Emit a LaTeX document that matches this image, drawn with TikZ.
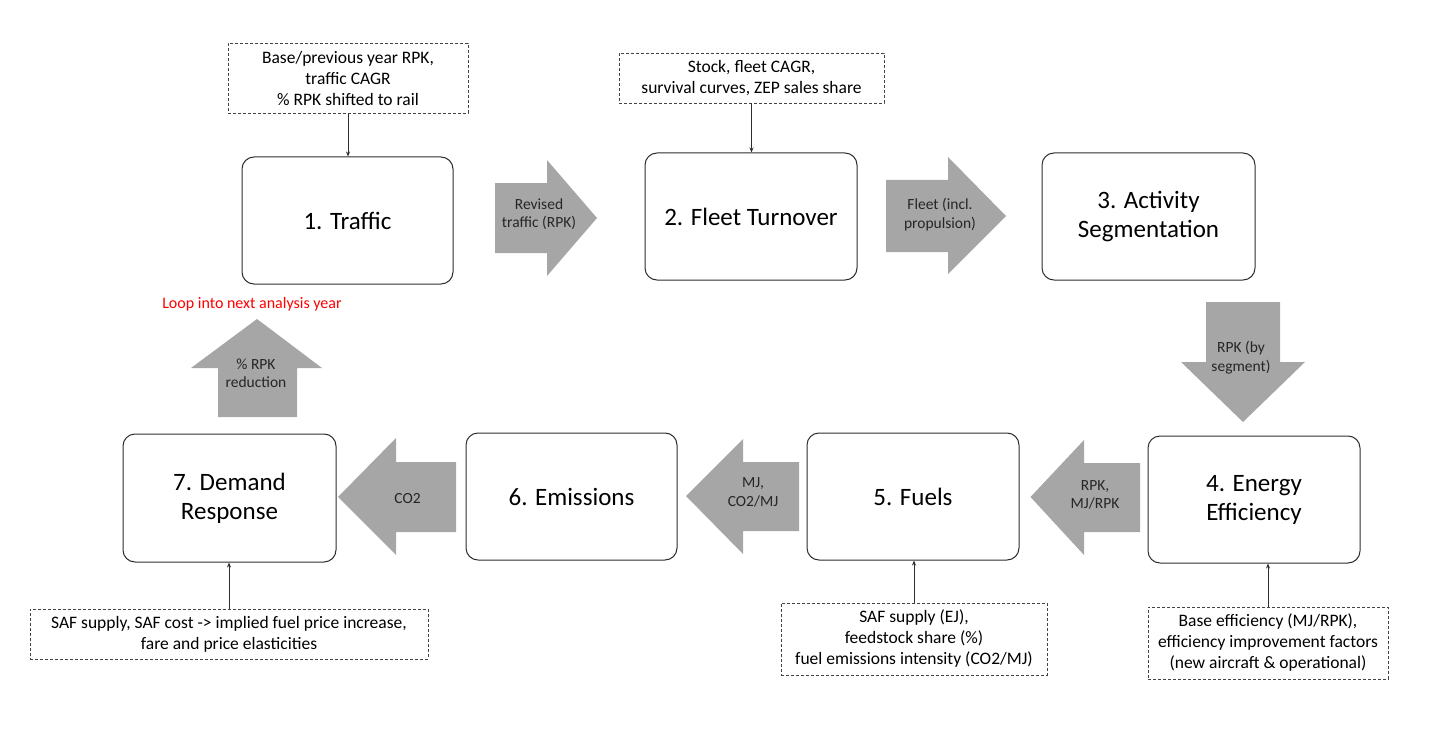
\documentclass[tikz,border=0pt]{standalone}
\usepackage{fontspec}
\setmainfont{Carlito}
\usetikzlibrary{arrows.meta}
\definecolor{arrowgray}{HTML}{A6A6A6}
\definecolor{boxline}{HTML}{2E2E2E}
\definecolor{looptext}{HTML}{FF0000}
\begin{document}
\begin{tikzpicture}[x=1pt,y=-1pt,
  stage/.style={draw=boxline, line width=1pt, rounded corners=12pt, fill=white,
    align=center, inner sep=0pt, font=\fontsize{25}{29}\selectfont},
  inputbox/.style={draw=boxline!90, line width=0.8pt, dash pattern=on 3pt off 2pt,
    align=center, inner sep=0pt, font=\fontsize{17.5}{21}\selectfont},
  conn/.style={draw=boxline, line width=0.8pt, -{Stealth[length=5pt,width=4pt]}},
  blockarrow/.style={fill=arrowgray, draw=none},
  arrowlabel/.style={align=center, inner sep=0pt, text=black!85, font=\fontsize{15.5}{18.5}\selectfont},
]
\useasboundingbox (0,0) rectangle (1430,733);

% stages
\node[stage, minimum width=211pt, minimum height=127pt] (s1) at (347.5,220.5) {1. Traffic};
\node[stage, minimum width=212pt, minimum height=127pt] (s2) at (751,216.5) {2. Fleet Turnover};
\node[stage, minimum width=213pt, minimum height=127pt] (s3) at (1148.5,216.5) {3. Activity\\Segmentation};
\node[stage, minimum width=212pt, minimum height=127pt] (s4) at (1254,499.5) {4. Energy\\Efficiency};
\node[stage, minimum width=212pt, minimum height=127pt] (s5) at (913,496.5) {5. Fuels};
\node[stage, minimum width=211pt, minimum height=127pt] (s6) at (571.5,496.5) {6. Emissions};
\node[stage, minimum width=213pt, minimum height=128pt] (s7) at (229.5,498) {7. Demand\\Response};

% inputs
\node[inputbox, minimum width=240pt, minimum height=70pt] (in1) at (348,78)
  {Base/previous year RPK,\\traffic CAGR\\\% RPK shifted to rail};
\node[inputbox, minimum width=265pt, minimum height=50pt] (in2) at (751.5,78)
  {Stock, fleet CAGR,\\survival curves, ZEP sales share};
\node[inputbox, minimum width=398pt, minimum height=50pt] (in7) at (229,634)
  {SAF supply, SAF cost -> implied fuel price increase,\\fare and price elasticities};
\node[inputbox, minimum width=266pt, minimum height=72pt] (in5) at (914,639)
  {SAF supply (EJ),\\feedstock share (\%)\\fuel emissions intensity (CO2/MJ)};
\node[inputbox, minimum width=240pt, minimum height=72pt] (in4) at (1268,643)
  {Base efficiency (MJ/RPK),\\efficiency improvement factors\\(new aircraft \& operational)};

% input connectors
\draw[conn] (in1.south) -- (in1.south |- s1.north);
\draw[conn] (in2.south) -- (in2.south |- s2.north);
\draw[conn] (in7.north) -- (in7.north |- s7.south);
\draw[conn] (in5.north) -- (in5.north |- s5.south);
\draw[conn] (in4.north) -- (in4.north |- s4.south);

% block arrows
% 1 -> 2
\fill[blockarrow] (495,183) -- (547,183) -- (547,160) -- (597,218) -- (547,276) -- (547,253) -- (495,253) -- cycle;
\node[arrowlabel] (a12) at (539,214) {Revised\\traffic (RPK)};
% 2 -> 3
\fill[blockarrow] (886,180) -- (948,180) -- (948,157) -- (1006,216) -- (948,274) -- (948,252) -- (886,252) -- cycle;
\node[arrowlabel] (a23) at (940,214.5) {Fleet (incl.\\propulsion)};
% 3 -> 4 (down)
\fill[blockarrow] (1206,302) -- (1280,302) -- (1280,362) -- (1305,362) -- (1243,422) -- (1181,362) -- (1206,362) -- cycle;
\node[arrowlabel] (a34) at (1241,357.5) {RPK (by\\segment)};
% 4 -> 5 (left)
\fill[blockarrow] (1140,463) -- (1084,463) -- (1084,440) -- (1030.5,497) -- (1084,555) -- (1084,532) -- (1140,532) -- cycle;
\node[arrowlabel] (a45) at (1095,495) {RPK,\\MJ/RPK};
% 5 -> 6 (left)
\fill[blockarrow] (799,462) -- (743,462) -- (743,439) -- (686,496) -- (743,554) -- (743,531) -- (799,531) -- cycle;
\node[arrowlabel] (a56) at (753,492.5) {MJ,\\CO2/MJ};
% 6 -> 7 (left)
\fill[blockarrow] (456,462) -- (396,462) -- (396,438) -- (338,497) -- (396,555) -- (396,532) -- (456,532) -- cycle;
\node[arrowlabel] (a67) at (407.5,499) {CO2};
% 7 -> loop (up)
\fill[blockarrow] (218,417) -- (218,368) -- (191,368) -- (257,319) -- (322,368) -- (297,368) -- (297,417) -- cycle;
\node[arrowlabel] (a71) at (256,373.5) {\% RPK\\reduction};

\node[inner sep=0pt, text=looptext, font=\fontsize{16}{19}\selectfont] (loop) at (252,304) {Loop into next analysis year};
\end{tikzpicture}
\end{document}
